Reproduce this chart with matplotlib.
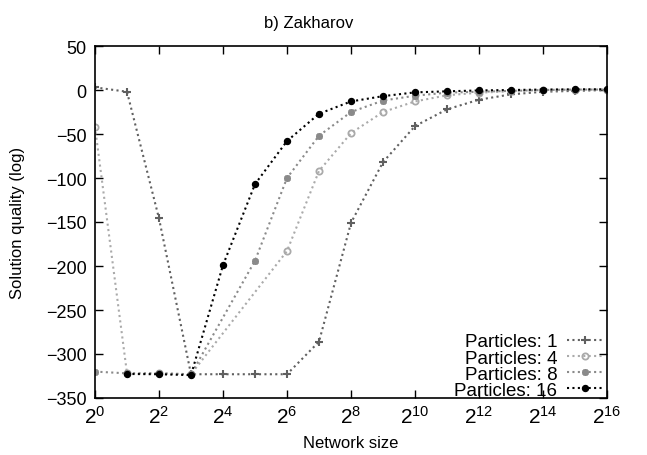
import numpy as np
import matplotlib
matplotlib.use('Agg')
from matplotlib import pyplot as plt

plt.rcParams['font.family'] = ['Liberation Sans', 'DejaVu Sans']
plt.rcParams['mathtext.fontset'] = 'custom'
plt.rcParams['mathtext.rm'] = 'Liberation Sans'
plt.rcParams['mathtext.it'] = 'Liberation Sans'

# exponents of the network size (2^k) and solution quality per series
p1_exp = [0, 1, 2, 3, 4, 5, 6, 7, 8, 9, 10, 11, 12, 13, 14, 15, 16]
p1_val = [3, -2, -146, -323, -323, -323, -323, -286, -151, -82, -41, -22, -11, -5, -2, -1, 0]

p4_exp = [0, 1, 2, 3, 6, 7, 8, 9, 10, 11, 12, 13, 14, 15, 16]
p4_val = [-42, -322, -322, -323, -183, -92, -49, -25, -13, -6, -3, -1.5, -0.5, 0, 0.5]

p8_exp = [0, 1, 2, 3, 5, 6, 7, 8, 9, 10, 11, 12, 13, 14, 15, 16]
p8_val = [-320, -322, -322, -323, -194, -100, -52, -25, -12, -6.5, -3, -2, -1, 0, 0.5, 0.5]

p16_exp = [1, 2, 3, 4, 5, 6, 7, 8, 9, 10, 11, 12, 13, 14, 15, 16]
p16_val = [-322.7, -323, -324, -199, -107, -58, -27, -13, -7, -2.7, -1.5, -0.5, 0, 0.5, 0.8, 0.8]

labels = ['Particles: 1', 'Particles: 4', 'Particles: 8', 'Particles: 16']
xtick_exp = [0, 2, 4, 6, 8, 10, 12, 14, 16]
yticks = [50, 0, -50, -100, -150, -200, -250, -300, -350]

fig = plt.figure(figsize=(6.47, 4.56), dpi=100)
ax = fig.add_axes([95/647, 57/456, 512/647, 352/456])

dots = (0, (1, 1.6))
ax.plot(2.0**np.array(p1_exp), p1_val, color='#606060', ls=dots, lw=1.5,
        marker='+', ms=6, mew=1.5, label=labels[0])
ax.plot(2.0**np.array(p4_exp), p4_val, color='#aaaaaa', ls=dots, lw=1.5,
        marker='o', ms=4.5, mew=1.3, mfc='none', label=labels[1])
ax.plot(2.0**np.array(p8_exp), p8_val, color='#8a8a8a', ls=dots, lw=1.5,
        marker=(8, 2, 0), ms=5, mew=1.3, label=labels[2])
ax.plot(2.0**np.array(p16_exp), p16_val, color='black', ls=dots, lw=1.5,
        marker='o', ms=4.3, label=labels[3])

ax.set_xscale('log', base=2)
ax.set_xlim(1, 2**16)
ax.set_ylim(-350, 50)
ax.set_xticks([2.0**k for k in xtick_exp])
ax.set_xticklabels(['$2^{%d}$' % k for k in xtick_exp])
ax.minorticks_off()
ax.set_yticks(yticks)
ax.tick_params(direction='in', length=6, width=1, top=True, right=True, pad=6)
ax.tick_params(axis='y', labelsize=13)
ax.tick_params(axis='x', labelsize=15, pad=5)
for s in ax.spines.values():
    s.set_linewidth(1.2)

ax.set_xlabel('Network size', fontsize=12, labelpad=6)
ax.set_ylabel('Solution quality (log)', fontsize=12)
ax.yaxis.set_label_coords(-0.137, 0.5)
ax.set_title('b) Zakharov', fontsize=12, pad=14)
ax.title.set_x(0.418)

ax.legend(loc='lower right', markerfirst=False, frameon=False, fontsize=13.5,
          handlelength=2.0, handletextpad=0.5, labelspacing=-0.05,
          borderpad=0.1, borderaxespad=0.0, bbox_to_anchor=(0.998, -0.008))

fig.savefig('out.png', dpi=100)
